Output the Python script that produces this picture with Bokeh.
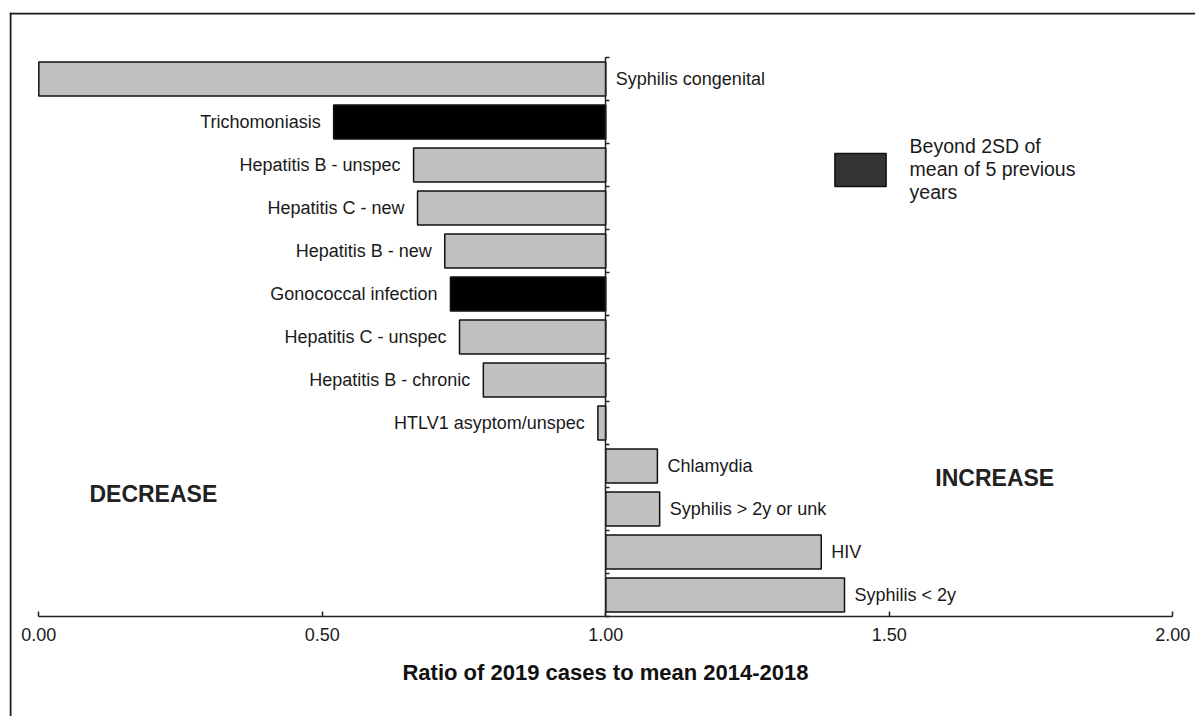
from bokeh.plotting import figure
from bokeh.models import (LinearAxis, FixedTicker, Span, Label, Legend, LegendItem,
                          ColumnDataSource, NumeralTickFormatter)
from bokeh.embed import file_html
from bokeh.resources import INLINE
from bokeh.core.properties import value

# ---------------- data ----------------
categories = ["Syphilis congenital", "Trichomoniasis", "Hepatitis B - unspec",
              "Hepatitis C - new", "Hepatitis B - new", "Gonococcal infection",
              "Hepatitis C - unspec", "Hepatitis B - chronic", "HTLV1 asyptom/unspec",
              "Chlamydia", "Syphilis > 2y or unk", "HIV", "Syphilis < 2y"]
ratios = [0.00, 0.52, 0.661, 0.668, 0.716, 0.726, 0.742, 0.784, 0.986,
          1.091, 1.095, 1.380, 1.421]
beyond_2sd = [False, True, False, False, False, True, False, False, False,
              False, False, False, False]
x_ticks = [0.0, 0.5, 1.0, 1.5, 2.0]
x_title = "Ratio of 2019 cases to mean 2014-2018"
legend_label = "Beyond 2SD of\nmean of 5 previous\nyears"

# ---------------- layout constants ----------------
W, H = 1195, 716
BL, BT = 9, 12
PX_X = 567.0     # pixels per ratio unit
PX_Y = 43.0      # pixels per category
x0_px = 29.3     # distance from frame left to ratio 0
y0_px = 100.0    # distance from frame bottom to category axis

fw = W - BL
fh = H - BT
x_start = -x0_px / PX_X
x_end = x_start + fw / PX_X
y_start = -y0_px / PX_Y
y_end = y_start + fh / PX_Y

n = len(categories)
ys = [n - i - 0.5 for i in range(n)]
colors = ["#000000" if b else "#c0c0c0" for b in beyond_2sd]

FONT = "Liberation Sans"
TXT = "#1a1a1a"

p = figure(width=W, height=H, x_range=(x_start, x_end), y_range=(y_start, y_end),
           output_backend="svg", toolbar_location=None, title=None,
           x_axis_location=None, y_axis_location=None)
p.min_border_left = BL
p.min_border_top = BT
p.min_border_right = 0
p.min_border_bottom = 0
p.outline_line_color = None
p.background_fill_color = "white"
p.border_fill_color = "white"
p.xgrid.grid_line_color = None
p.ygrid.grid_line_color = None
p.xgrid.visible = False
p.ygrid.visible = False

src = ColumnDataSource(dict(y=ys, name=categories, r=ratios, c=colors))
p.hbar(y="y", left=1.0, right="r", height=0.79, fill_color="c",
       line_color="#111111", line_width=1.5, source=src)

# labels next to bars
tx, xo, al = [], [], []
for r in ratios:
    if r >= 1.0:
        tx.append(r); xo.append(10); al.append("left")
    elif r < 0.2:
        tx.append(1.0); xo.append(10); al.append("left")
    else:
        tx.append(r); xo.append(-13); al.append("right")
lab = ColumnDataSource(dict(x=tx, y=ys, t=categories, xo=xo, al=al))
p.text(x="x", y="y", text="t", x_offset="xo", text_align="al",
       text_baseline="middle", text_font=value(FONT), text_font_size="18px",
       text_color=TXT, source=lab)

# x axis
xaxis = LinearAxis(fixed_location=0, bounds=(0, 2),
                   ticker=FixedTicker(ticks=x_ticks),
                   formatter=NumeralTickFormatter(format="0.00"),
                   axis_label=x_title)
xaxis.major_tick_in = 5
xaxis.major_tick_out = 0
xaxis.minor_tick_line_color = None
xaxis.axis_line_color = "#222222"
xaxis.axis_line_width = 1.5
xaxis.major_tick_line_color = "#222222"
xaxis.major_tick_line_width = 1.5
xaxis.major_label_text_font = FONT
xaxis.major_label_text_font_size = "18px"
xaxis.major_label_text_color = TXT
xaxis.major_label_standoff = 11
xaxis.axis_label_text_font = FONT
xaxis.axis_label_text_font_size = "22px"
xaxis.axis_label_text_font_style = "bold"
xaxis.axis_label_text_color = "#111111"
xaxis.axis_label_standoff = 16
p.add_layout(xaxis, "below")

# vertical axis at ratio 1.0 (category boundaries), no labels
yaxis = LinearAxis(fixed_location=1.0, bounds=(0, n),
                   ticker=FixedTicker(ticks=list(range(n + 1))),
                   major_label_overrides={i: "" for i in range(n + 1)})
yaxis.major_tick_in = 4
yaxis.major_tick_out = 0
yaxis.minor_tick_line_color = None
yaxis.major_label_text_font = FONT
yaxis.axis_line_color = "#222222"
yaxis.axis_line_width = 1.5
yaxis.major_tick_line_color = "#222222"
yaxis.major_tick_line_width = 1.5
p.add_layout(yaxis, "left")

# outer frame lines (left and top), one pixel inside the frame edge
p.add_layout(Span(location=x_start + 1.0 / PX_X, dimension="height",
                  line_color="#1a1a1a", line_width=2))
p.add_layout(Span(location=y_end - 1.0 / PX_Y, dimension="width",
                  line_color="#1a1a1a", line_width=2))

# region labels
p.add_layout(Label(x=0.202, y=2.86, text="DECREASE", text_align="center",
                   text_baseline="middle", text_font=FONT, text_font_style="bold",
                   text_font_size="23px", text_color="#222222"))
p.add_layout(Label(x=1.686, y=3.23, text="INCREASE", text_align="center",
                   text_baseline="middle", text_font=FONT, text_font_style="bold",
                   text_font_size="23px", text_color="#222222"))

# legend (swatch renderer holds one undrawn NaN point)
leg_src = ColumnDataSource(dict(x=[float("nan")], y=[float("nan")]))
sw = p.rect(x="x", y="y", width=1, height=1, source=leg_src,
            fill_color="#333333", line_color="#111111", line_width=1.5)
legend = Legend(items=[LegendItem(label=legend_label, renderers=[sw])],
                location=(818.6, 512))
legend.glyph_width = 64
legend.glyph_height = 41
legend.label_standoff = 18
legend.padding = 0
legend.margin = 0
legend.spacing = 0
legend.border_line_color = None
legend.background_fill_alpha = 0
legend.label_text_font = FONT
legend.label_text_font_size = "19.5px"
legend.label_text_color = TXT
legend.label_text_line_height = 1.15
p.add_layout(legend, "center")

open("out.html", "w").write(file_html(p, INLINE))
